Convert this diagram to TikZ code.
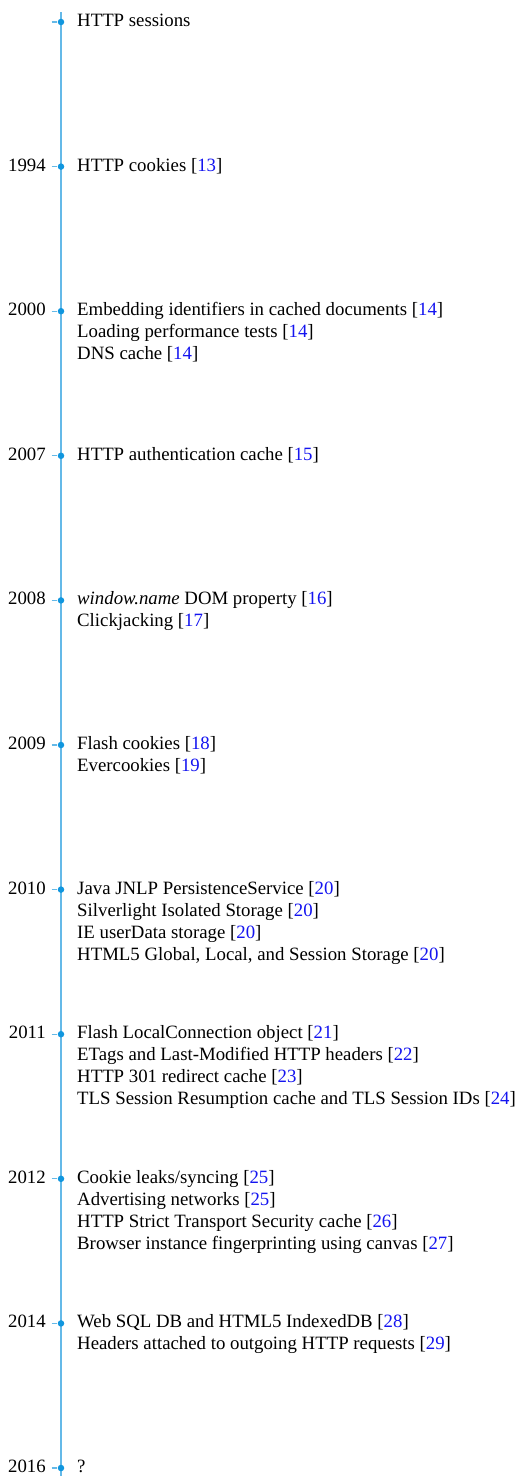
\documentclass[tikz,border=0pt]{standalone}
\usepackage{fontspec}
\setmainfont{Liberation Serif}
\usetikzlibrary{calc}
\definecolor{axisblue}{RGB}{100,185,232}
\definecolor{dotblue}{RGB}{16,150,222}
\definecolor{refblue}{RGB}{20,20,240}
\newcommand{\rf}[1]{[\textcolor{refblue}{#1}]}
\newcommand{\evlines}[1]{\begin{tabular}[t]{@{}l@{}}#1\end{tabular}}
\tikzset{
  evdot/.style={circle,fill=dotblue,inner sep=0pt,minimum size=6.5pt},
  yearlbl/.style={anchor=base east,inner sep=0pt},
  evtext/.style={anchor=base west,inner sep=0pt},
  axisline/.style={draw=axisblue,line width=1.2pt},
  tickline/.style={draw=axisblue,line width=1.2pt},
}
\begin{document}
\begin{tikzpicture}[x=1pt,y=-1pt,every node/.style={font=\fontsize{18.8}{22}\selectfont}]
\useasboundingbox (0,0) rectangle (522,1476);
\coordinate (top) at (61,12);
\coordinate (bot) at (61,1476);
\draw[axisline] (top) -- (bot);
\foreach \i/\yr in {0/,1/1994,2/2000,3/2007,4/2008,5/2009,6/2010,7/2011,8/2012,9/2014,10/2016}{
  \pgfmathsetmacro{\yy}{22+144.6*\i}
  \node[evdot] (d\i) at (61,\yy) {};
  \coordinate (t\i) at (51.5,\yy);
  \draw[tickline] (t\i) -- (57,\yy);
  \node[yearlbl] (y\i) at (46,\yy+4.5) {\yr};
}
\node[evtext] (e0) at (77,22+4.5) {HTTP sessions};
\node[evtext] (e1) at (77,166.6+4.5) {HTTP cookies \rf{13}};
\node[evtext] (e2) at (77,311.2+4.5) {\evlines{Embedding identifiers in cached documents \rf{14}\\Loading performance tests \rf{14}\\DNS cache \rf{14}}};
\node[evtext] (e3) at (77,455.8+4.5) {HTTP authentication cache \rf{15}};
\node[evtext] (e4) at (77,600.4+4.5) {\evlines{\textit{window.name} DOM property \rf{16}\\Clickjacking \rf{17}}};
\node[evtext] (e5) at (77,745+4.5) {\evlines{Flash cookies \rf{18}\\Evercookies \rf{19}}};
\node[evtext] (e6) at (77,889.6+4.5) {\evlines{Java JNLP PersistenceService \rf{20}\\Silverlight Isolated Storage \rf{20}\\IE userData storage \rf{20}\\HTML5 Global, Local, and Session Storage \rf{20}}};
\node[evtext] (e7) at (77,1034.2+4.5) {\evlines{Flash LocalConnection object \rf{21}\\ETags and Last-Modified HTTP headers \rf{22}\\HTTP 301 redirect cache \rf{23}\\TLS Session Resumption cache and TLS Session IDs \rf{24}}};
\node[evtext] (e8) at (77,1178.8+4.5) {\evlines{Cookie leaks/syncing \rf{25}\\Advertising networks \rf{25}\\HTTP Strict Transport Security cache \rf{26}\\Browser instance fingerprinting using canvas \rf{27}}};
\node[evtext] (e9) at (77,1323.4+4.5) {\evlines{Web SQL DB and HTML5 IndexedDB \rf{28}\\Headers attached to outgoing HTTP requests \rf{29}}};
\node[evtext] (e10) at (77,1468+4.5) {?};
\end{tikzpicture}
\end{document}
